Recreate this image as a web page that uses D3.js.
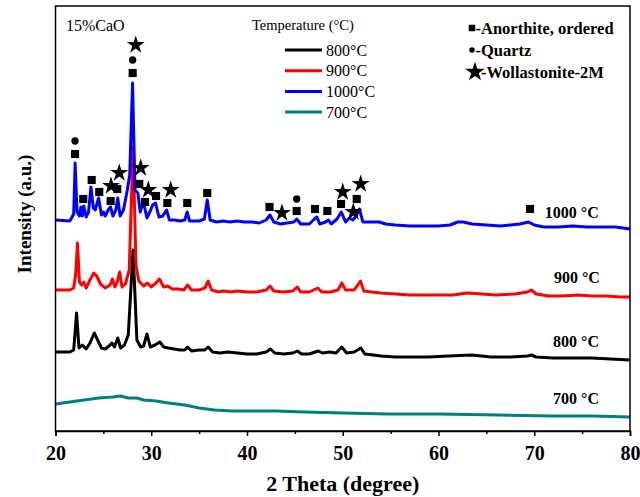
<!DOCTYPE html>
<html>
<head>
<meta charset="utf-8">
<script src="https://cdn.jsdelivr.net/npm/d3@7"></script>
<style>
  body { margin: 0; background: #fff; }
  text { font-family: "Liberation Serif", "Times New Roman", serif; }
</style>
</head>
<body>
<div id="chart"></div>
<script>
// XRD patterns, stacked (2 theta in degree, intensity a.u.)
const xrd1000 = [[20,218],[21.5,217],[21.9,224],[22.05,275],[22.25,226],[22.5,222],[22.65,231],[22.8,222],[22.95,232],[23.2,221],[23.45,226],[23.7,251],[23.95,230],[24.15,228],[24.5,240],[24.8,223],[25,226],[25.2,222],[25.5,228],[25.75,231],[26,222],[26.3,228],[26.5,240],[26.75,222],[27.1,228],[27.5,248],[27.75,263],[28.05,355],[28.3,248],[28.6,245],[28.85,226],[29.05,233],[29.3,231],[29.55,220],[29.85,226],[30.15,233],[30.45,235],[30.8,221],[31.2,222],[31.6,228],[31.9,218],[32.4,218],[33,217],[33.5,218],[33.75,226],[34,217],[35,217],[35.55,219],[35.85,238],[36.15,218],[36.8,216],[37.5,217],[38.2,216],[39,217],[39.7,216],[40.5,216],[41.3,215],[42,218],[42.4,223],[42.8,216],[43.5,214],[44.2,215],[44.9,216],[45.2,219],[45.6,214],[46.5,214],[47.05,219],[47.3,221],[47.6,214],[48.2,216],[48.5,218],[48.8,214],[49.4,219],[49.85,226],[50.3,216],[50.7,220],[51.05,218],[51.4,222],[51.75,229],[52.1,216],[53,216],[53.8,216],[54.5,214],[55.5,213],[57,212],[58.5,212],[60,212],[61.2,213],[62,216],[62.6,216],[63.5,214],[65,213],[66.5,212],[67.5,213],[68.5,214],[69.4,216],[70,213],[71,211],[72.5,211],[74,212],[75.5,211],[77,211],[78.5,211],[80,209]];
const xrd900 = [[20,148],[21.5,148],[21.9,150],[22.1,163],[22.3,195],[22.5,156],[22.75,153],[22.95,156],[23.2,150],[23.6,158],[24,165],[24.3,162],[24.7,154],[25.2,150],[25.7,153],[25.95,159],[26.2,151],[26.45,156],[26.7,166],[26.95,151],[27.3,154],[27.7,168],[28.1,291],[28.4,173],[28.7,157],[29.2,152],[29.6,155],[30,151],[30.5,155],[30.85,159],[31.3,151],[31.7,152],[32.2,149],[32.8,149],[33.4,148],[33.8,153],[34.2,148],[35,148],[35.6,150],[35.95,157],[36.3,148],[37,146],[37.5,147],[38.3,146],[39,147],[40,146],[41,146],[42,148],[42.4,152],[42.8,147],[43.8,146],[44.8,147],[45.25,151],[45.6,146],[46.5,146],[47.4,150],[47.8,146],[48.7,146],[49.5,148],[49.9,155],[50.3,148],[51.2,148],[51.85,157],[52.2,147],[53,146],[54,145],[55.5,144],[57,143],[58.5,143],[60,143],[61.5,143],[63,145],[64.5,144],[66,143],[68,144],[69.3,146],[69.7,148],[70.2,144],[71.5,142],[73,142],[74.5,143],[76,142],[77.5,142],[79,141],[80,141]];
const xrd800 = [[20,86],[21.5,86],[21.9,88],[22.2,125],[22.45,90],[22.8,93],[23.2,89],[23.6,95],[24.05,105],[24.4,98],[24.8,90],[25.2,89],[25.6,92],[25.9,95],[26.15,91],[26.5,100],[26.8,90],[27.2,93],[27.6,103],[28.1,188],[28.5,98],[28.9,91],[29.2,92],[29.55,104],[29.9,91],[30.4,93],[30.9,96],[31.3,91],[31.8,90],[32.4,89],[33,88],[33.5,88],[33.8,91],[34.2,87],[35,88],[35.6,88],[35.95,91],[36.4,86],[37.2,85],[38,86],[39,85],[40,84],[41,84],[42,86],[42.45,89],[42.9,85],[43.8,84],[44.8,85],[45.25,87],[45.7,84],[46.5,84],[47.45,87],[47.9,85],[48.6,86],[49.3,85],[49.9,91],[50.4,85],[51.2,86],[51.9,90],[52.3,84],[53.2,83],[54,82],[55.5,81],[57,81],[59,81],[61,82],[63.5,83],[65.5,81],[67.5,81],[69.3,82],[69.7,83],[70.2,81],[72,80],[74,80],[76,80],[78,79],[80,78]];
const xrd700 = [[20,34],[21.5,36],[23,38],[24.5,40],[26,41],[26.8,42],[27.6,40],[28.5,40],[29.2,38],[30.5,37],[31.8,35],[33.5,33],[35,30],[36.6,28],[38.5,27],[41,27],[43,27],[46,26],[50,25],[54.7,24],[60,24],[66.3,23],[72,22],[76,22],[80,21]];

// phase markers on the 1000 C pattern
const anorthite = [[28.06,365],[22.04,284],[22.9,239],[23.78,258],[24.57,246],[25.76,237],[26.45,249],[28.75,254],[29.35,236],[30.5,242],[31.68,235],[33.76,235],[35.85,245],[42.35,231],[45.19,227],[47.1,229],[48.39,227],[49.82,234],[51.46,239],[69.56,229]];
const quartz = [[28.06,378],[22.04,297],[45.19,239]];
const wollastonite = [[28.38,393],[25.8,252],[26.66,265],[28.9,270],[29.69,248],[32.03,248],[43.65,225],[50.0,246],[51.87,254],[51.1,226]];

const temps = ['800°C', '900°C', '1000°C', '700°C'];
const colors = ['#000000', '#ff0000', '#0000ff', '#008080'];
const curveLabels = ['1000 °C', '900 °C', '800 °C', '700 °C'];
const xTicks = [20, 30, 40, 50, 60, 70, 80];
const xMinor = [25, 35, 45, 55, 65, 75];

let margin = {top: 6, right: 10, bottom: 66, left: 55.5};
let width = 640 - margin.left - margin.right;
let height = 497 - margin.top - margin.bottom;

let svg = d3.select('#chart')
    .append('svg')
    .attr('width', 640)
    .attr('height', 497);

let g = svg.append('g').attr('transform', 'translate(' + margin.left + ',' + margin.top + ')');

let x = d3.scaleLinear().domain([20, 80]).range([0, width]);
let y = d3.scaleLinear().domain([7, 432]).range([height, 0]);

let line = d3.line()
    .x(function (d) { return x(d[0]); })
    .y(function (d) { return y(d[1]); });

// patterns, drawn back to front
[[xrd700, colors[3]], [xrd800, colors[0]], [xrd900, colors[1]], [xrd1000, colors[2]]].forEach(function (s) {
    g.append('path')
        .datum(s[0])
        .attr('fill', 'none')
        .attr('stroke', s[1])
        .attr('stroke-width', 3)
        .attr('stroke-linejoin', 'round')
        .attr('d', line);
});

// markers
function drawMarkers(data, type, size) {
    g.selectAll(null).data(data).enter()
        .append('path')
        .attr('d', d3.symbol().type(type).size(size))
        .attr('transform', function (d) { return 'translate(' + x(d[0]) + ',' + y(d[1]) + ')'; })
        .attr('fill', '#000');
}
drawMarkers(anorthite, d3.symbolSquare, 66);
drawMarkers(quartz, d3.symbolCircle, 42);
drawMarkers(wollastonite, d3.symbolStar, 100);

// frame
g.append('rect')
    .attr('width', width)
    .attr('height', height)
    .attr('fill', 'none')
    .attr('stroke', '#000')
    .attr('stroke-width', 1.5);

// X Axis
let xAxisCall = d3.axisBottom(x).tickValues(xTicks).tickSize(5).tickPadding(10).tickFormat(d3.format('d'));
let xAxis = g.append('g').attr('transform', 'translate(0,' + height + ')').call(xAxisCall);
xAxis.select('.domain').attr('stroke-width', 1.5);
xAxis.selectAll('.tick line').attr('stroke-width', 1.5);
xAxis.selectAll('.tick text')
    .attr('font-family', '"Liberation Serif", serif')
    .attr('font-size', '20px')
    .attr('font-weight', 'bold')
    .attr('fill', '#000');

let minorCall = d3.axisBottom(x).tickValues(xMinor).tickSize(3).tickFormat('');
let minor = g.append('g').attr('transform', 'translate(0,' + height + ')').call(minorCall);
minor.select('.domain').remove();
minor.selectAll('.tick line').attr('stroke-width', 1.5);

//X Axis Text
g.append('text')
    .attr('x', width / 2)
    .attr('y', height + 60)
    .attr('text-anchor', 'middle')
    .attr('font-size', '22px')
    .attr('font-weight', 'bold')
    .text('2 Theta (degree)');

//Y Axis Text
g.append('text')
    .attr('x', -208)
    .attr('y', -25)
    .attr('text-anchor', 'middle')
    .attr('font-size', '19px')
    .attr('font-weight', 'bold')
    .attr('transform', 'rotate(-90)')
    .text('Intensity (a.u.)');

// sample label
g.append('text')
    .attr('x', 10.5)
    .attr('y', 25)
    .attr('font-size', '16px')
    .text('15%CaO');

// temperature legend
g.append('text')
    .attr('x', 196.5)
    .attr('y', 24)
    .attr('font-size', '14.5px')
    .text('Temperature (°C)');

let leg = g.selectAll('.leg').data(temps).enter()
    .append('g')
    .attr('transform', function (d, i) { return 'translate(229.5,' + (44 + i * 20.7) + ')'; });
leg.append('line')
    .attr('x1', 0).attr('x2', 37)
    .attr('stroke', function (d, i) { return colors[i]; })
    .attr('stroke-width', 3);
leg.append('text')
    .attr('x', 41)
    .attr('dy', '0.35em')
    .attr('font-size', '16px')
    .text(function (d) { return d; });

// phase legend
const phases = ['-Anorthite, ordered', '-Quartz', '-Wollastonite-2M'];
const phaseSym = [[d3.symbolSquare, 42], [d3.symbolCircle, 24], [d3.symbolStar, 120]];
let pleg = g.selectAll('.pleg').data(phases).enter()
    .append('g')
    .attr('transform', function (d, i) { return 'translate(412.5,' + (22 + i * 22) + ')'; });
pleg.append('path')
    .attr('d', function (d, i) { return d3.symbol().type(phaseSym[i][0]).size(phaseSym[i][1])(); })
    .attr('transform', function (d, i) { return 'translate(' + (i == 2 ? 7 : 4) + ',0)'; })
    .attr('fill', '#000');
pleg.append('text')
    .attr('x', function (d, i) { return i == 2 ? 13 : 7.5; })
    .attr('dy', '0.35em')
    .attr('font-size', '16.5px')
    .attr('font-weight', 'bold')
    .text(function (d) { return d; });

// curve labels
const labelX = [71.1, 72.06, 71.96, 71.96];
const labelY = [226, 161, 97, 40];
g.selectAll('.clab').data(curveLabels).enter()
    .append('text')
    .attr('x', function (d, i) { return x(labelX[i]); })
    .attr('y', function (d, i) { return y(labelY[i]); })
    .attr('dy', '0.35em')
    .attr('font-size', '16px')
    .attr('font-weight', 'bold')
    .text(function (d) { return d; });
</script>
</body>
</html>
